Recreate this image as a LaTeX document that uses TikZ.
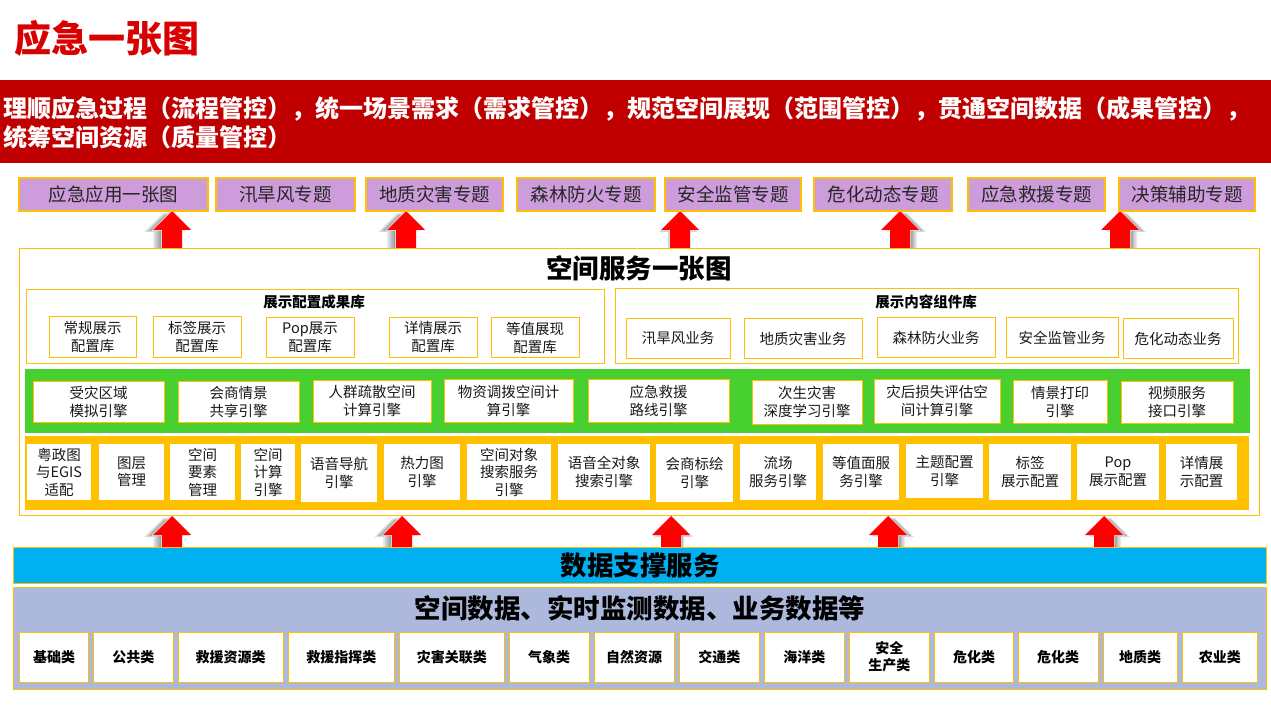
\documentclass[tikz,border=0pt]{standalone}
\usepackage{fontspec}
\setmainfont{Noto Sans CJK SC}
\definecolor{gold}{HTML}{FFC000}
\definecolor{lilac}{HTML}{CD9CDA}
\definecolor{bandred}{HTML}{C00000}
\definecolor{titlered}{HTML}{D80000}
\definecolor{grn}{HTML}{48D030}
\definecolor{sky}{HTML}{00B0F0}
\definecolor{lav}{HTML}{ADB9DC}
\definecolor{arrred}{HTML}{FF0000}
\newcommand\bx[7]{\node[#6, minimum width={(#4-#2)*1pt}, minimum height={(#5-#3)*1pt}] (#1) at ({(#2+#4)/2},{(#3+#5)/2}) {#7};}
\newcommand\arrowshape[4]{(#1,#2) -- ({#1+19},#3) -- ({#1+10},#3) -- ({#1+10},#4) -- ({#1-10},#4) -- ({#1-10},#3) -- ({#1-19},#3) -- cycle}
\newcommand\blockarrow[5]{%
  \foreach \k in {1,2,3,4,5}{
    \fill[black, opacity=0.09, shift={({#5*\k/5},{0.4*\k})}] \arrowshape{#1}{#2}{#3}{#4};
  }
  \draw[white, line width=1.2pt, opacity=0.9] \arrowshape{#1}{#2}{#3}{#4};
  \fill[arrred] \arrowshape{#1}{#2}{#3}{#4};}
\begin{document}
\begin{tikzpicture}[x=1pt,y=-1pt,
  every node/.style={inner sep=0pt, outer sep=0pt},
  pbox/.style={draw=gold, line width=1.2pt, fill=lilac, text=black!85, font=\fontsize{18.5}{22}\selectfont},
  wbox/.style={draw=gold, line width=1pt, fill=white, align=center, text=black!90, font=\fontsize{14.5}{18}\selectfont},
  ybox/.style={fill=white, align=center, text=black!90, font=\fontsize{14.5}{17.5}\selectfont},
  dbox/.style={draw=gold, line width=1pt, fill=white, align=center, font=\bfseries\fontsize{14}{17}\selectfont},
  panel/.style={draw=gold, line width=0.8pt},
  bigtitle/.style={font=\bfseries\fontsize{26.5}{30}\selectfont},
  subtitle/.style={font=\bfseries\fontsize{14.5}{17}\selectfont},
  bandtext/.style={anchor=base west, text=white, font=\bfseries\fontsize{24}{29}\selectfont}]
\useasboundingbox (0,0) rectangle (1271,708);
\fill[white] (0,0) rectangle (1271,708);
% title
\node[text=titlered, font=\bfseries\fontsize{37}{40}\selectfont] (title) at (107,38) {应急一张图};
% red band
\bx{band}{0}{80}{1271}{163}{fill=bandred}{}
\node[bandtext] (bandl1) at (3,118) {理顺应急过程（流程管控），统一场景需求（需求管控），规范空间展现（范围管控），贯通空间数据（成果管控），};
\node[bandtext] (bandl2) at (3,147) {统筹空间资源（质量管控）};
% arrows (top)
\blockarrow{172}{211}{230}{250}{-9}
\blockarrow{406}{211}{230}{250}{-9}
\blockarrow{680}{211}{230}{250}{-2}
\blockarrow{900}{211}{230}{250}{7}
\blockarrow{1120}{211}{230}{250}{7}
% arrows (bottom)
\blockarrow{172}{516}{535}{549}{-9}
\blockarrow{402}{516}{535}{549}{-9}
\blockarrow{671}{516}{535}{549}{3}
\blockarrow{888}{516}{535}{549}{7}
\blockarrow{1104}{516}{535}{549}{7}
% purple topic boxes
\bx{t1}{19}{178}{208}{211}{pbox}{应急应用一张图}
\bx{t2}{216}{178}{355}{211}{pbox}{汛旱风专题}
\bx{t3}{366}{178}{503}{211}{pbox}{地质灾害专题}
\bx{t4}{517}{178}{655}{211}{pbox}{森林防火专题}
\bx{t5}{665}{178}{801}{211}{pbox}{安全监管专题}
\bx{t6}{814}{178}{952}{211}{pbox}{危化动态专题}
\bx{t7}{968}{178}{1105}{211}{pbox}{应急救援专题}
\bx{t8}{1119}{178}{1255}{211}{pbox}{决策辅助专题}
% service panel
\fill[white] (19,248) rectangle (1259,515);
\bx{svc}{19}{248}{1259}{515}{panel}{}
\node[bigtitle] (svct) at (639,268) {空间服务一张图};
\bx{cfg}{26}{289}{604}{363}{panel}{}
\node[subtitle] (cfgt) at (314,302) {展示配置成果库};
\bx{c1}{49}{317}{136}{357}{wbox}{常规展示\\配置库}
\bx{c2}{153}{317}{241}{357}{wbox}{标签展示\\配置库}
\bx{c3}{266}{318}{354}{357}{wbox}{Pop展示\\配置库}
\bx{c4}{389}{318}{477}{357}{wbox}{详情展示\\配置库}
\bx{c5}{491}{318}{579}{357}{wbox}{等值展现\\配置库}
\bx{cmp}{615}{288}{1238}{363}{panel}{}
\node[subtitle] (cmpt) at (926,302) {展示内容组件库};
\bx{m1}{626}{319}{730}{358}{wbox}{汛旱风业务}
\bx{m2}{744}{319}{862}{358}{wbox}{地质灾害业务}
\bx{m3}{877}{318}{995}{357}{wbox}{森林防火业务}
\bx{m4}{1006}{318}{1118}{357}{wbox}{安全监管业务}
\bx{m5}{1123}{319}{1233}{358}{wbox}{危化动态业务}
% green band
\bx{green}{25}{369}{1250}{433}{fill=grn}{}
\bx{g1}{33}{381}{164}{422}{wbox}{受灾区域\\模拟引擎}
\bx{g2}{178}{381}{299}{422}{wbox}{会商情景\\共享引擎}
\bx{g3}{313}{380}{431}{422}{wbox}{人群疏散空间\\计算引擎}
\bx{g4}{444}{379}{573}{422}{wbox}{物资调拨空间计\\算引擎}
\bx{g5}{588}{379}{729}{422}{wbox}{应急救援\\路线引擎}
\bx{g6}{752}{380}{862}{424}{wbox}{次生灾害\\深度学习引擎}
\bx{g7}{874}{379}{1000}{423}{wbox}{灾后损失评估空\\间计算引擎}
\bx{g8}{1013}{380}{1107}{423}{wbox}{情景打印\\引擎}
\bx{g9}{1121}{381}{1233}{423}{wbox}{视频服务\\接口引擎}
% yellow band
\bx{yel}{25}{436}{1249}{510}{fill=gold}{}
\bx{y1}{27}{444}{91}{500}{ybox}{粤政图\\与EGIS\\适配}
\bx{y2}{99}{444}{164}{500}{ybox}{图层\\管理}
\bx{y3}{170}{444}{235}{500}{ybox}{空间\\要素\\管理}
\bx{y4}{241}{444}{295}{500}{ybox}{空间\\计算\\引擎}
\bx{y5}{301}{444}{377}{502}{ybox}{语音导航\\引擎}
\bx{y6}{384}{444}{460}{500}{ybox}{热力图\\引擎}
\bx{y7}{467}{444}{551}{500}{ybox}{空间对象\\搜索服务\\引擎}
\bx{y8}{558}{444}{650}{500}{ybox}{语音全对象\\搜索引擎}
\bx{y9}{656}{444}{733}{502}{ybox}{会商标绘\\引擎}
\bx{y10}{740}{444}{816}{500}{ybox}{流场\\服务引擎}
\bx{y11}{823}{444}{899}{500}{ybox}{等值面服\\务引擎}
\bx{y12}{906}{444}{983}{498}{ybox}{主题配置\\引擎}
\bx{y13}{989}{444}{1071}{500}{ybox}{标签\\展示配置}
\bx{y14}{1077}{444}{1159}{500}{ybox}{Pop\\展示配置}
\bx{y15}{1166}{444}{1237}{500}{ybox}{详情展\\示配置}
% data support band
\bx{sup}{13.5}{547}{1266.5}{583}{fill=sky, draw=gold, line width=1pt}{}
\node[bigtitle] (supt) at (640,565) {数据支撑服务};
\bx{data}{13.5}{587}{1266.5}{689}{fill=lav, draw=gold, line width=1pt}{}
\node[bigtitle] (datat) at (640,608) {空间数据、实时监测数据、业务数据等};
\bx{d1}{19.6}{632}{88.6}{682}{dbox}{基础类}
\bx{d2}{93}{632}{173.5}{682}{dbox}{公共类}
\bx{d3}{178}{632}{283}{682}{dbox}{救援资源类}
\bx{d4}{288.6}{632}{394}{682}{dbox}{救援指挥类}
\bx{d5}{399}{632}{504.5}{682}{dbox}{灾害关联类}
\bx{d6}{509}{632}{589}{682}{dbox}{气象类}
\bx{d7}{594}{632}{674}{682}{dbox}{自然资源}
\bx{d8}{679}{632}{759.6}{682}{dbox}{交通类}
\bx{d9}{764.5}{632}{844}{682}{dbox}{海洋类}
\bx{d10}{849.5}{632}{929}{682}{dbox}{安全\\生产类}
\bx{d11}{934.6}{632}{1013.5}{682}{dbox}{危化类}
\bx{d12}{1018}{632}{1098}{682}{dbox}{危化类}
\bx{d13}{1103}{632}{1177}{682}{dbox}{地质类}
\bx{d14}{1182}{632}{1257.6}{682}{dbox}{农业类}
\end{tikzpicture}
\end{document}
